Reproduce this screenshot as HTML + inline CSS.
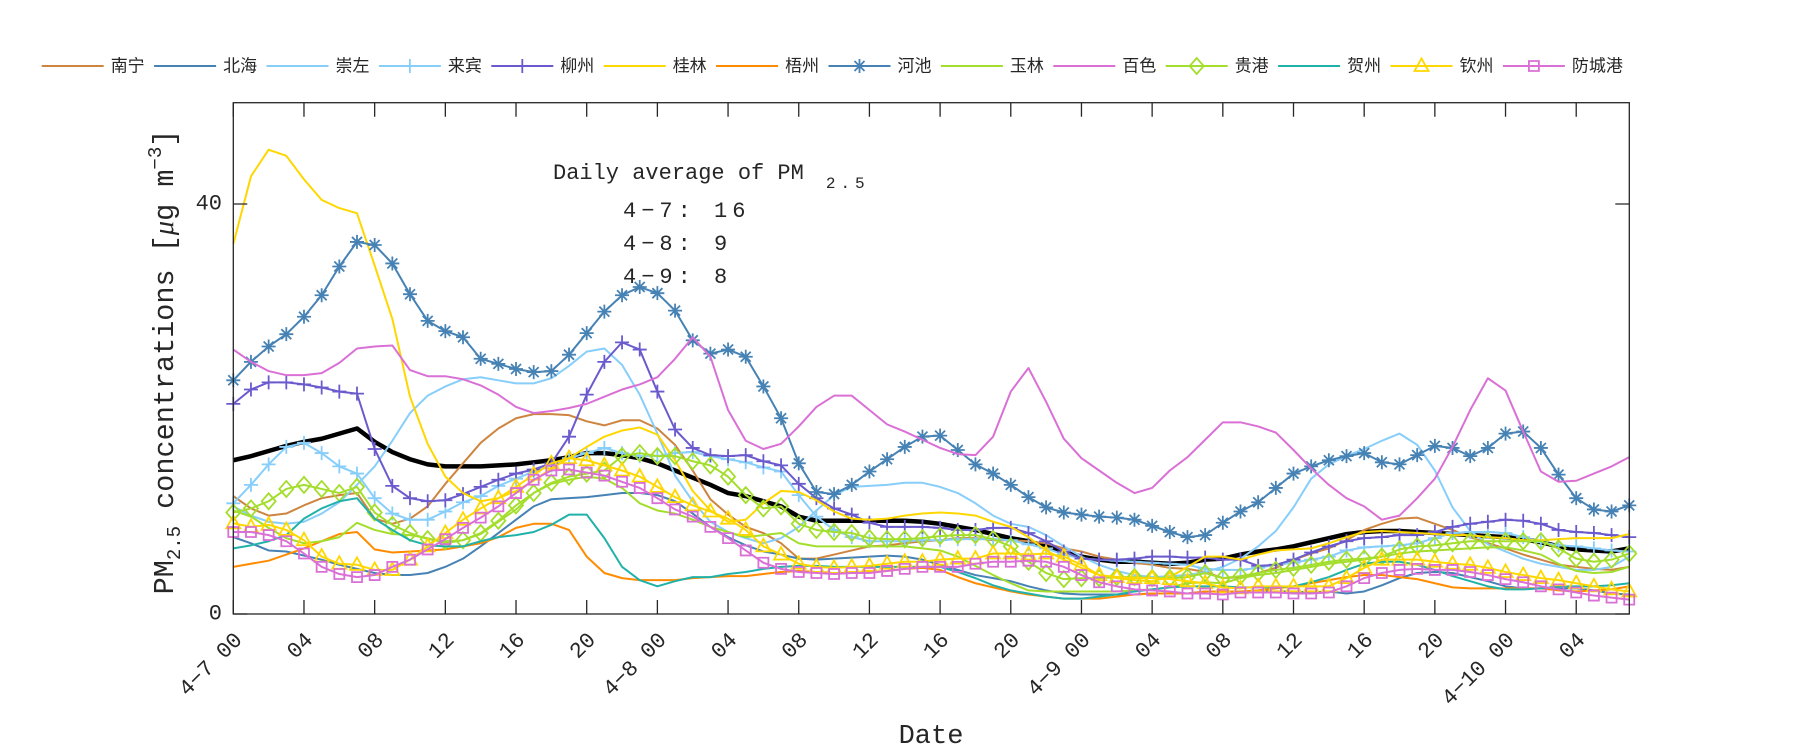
<!DOCTYPE html>
<html>
<head>
<meta charset="utf-8">
<style>
  html, body { margin:0; padding:0; background:#fff; }
  body { width:1800px; height:750px; overflow:hidden; }
  svg { display:block; }
  .mono { font-family:"Liberation Mono","DejaVu Sans Mono",monospace; fill:#262626; }
  .cjk { font-family:"Liberation Sans","Noto Sans CJK SC",sans-serif; fill:#262626; font-size:17px; }
</style>
</head>
<body>
<svg id="chart" width="1800" height="750" viewBox="0 0 1800 750" xmlns="http://www.w3.org/2000/svg">
  <rect x="0" y="0" width="1800" height="750" fill="#fff"/>
  <g id="series"></g>
  <!-- axes box -->
  <rect x="233.3" y="102.7" width="1396" height="511.3" fill="none" stroke="#262626" stroke-width="1.3"/>
  <g id="ticks" stroke="#262626" stroke-width="1.3"></g>

  <!-- y tick labels -->
  <text class="mono" x="222" y="614" font-size="22" text-anchor="end" dominant-baseline="central">0</text>
  <text class="mono" x="222" y="204" font-size="22" text-anchor="end" dominant-baseline="central">40</text>

  <!-- x tick labels -->
  <g class="mono" font-size="22" text-anchor="end" dominant-baseline="central">
    <text transform="translate(239.3,637) rotate(-45)">4−7 00</text>
    <text transform="translate(310.0,637) rotate(-45)">04</text>
    <text transform="translate(380.7,637) rotate(-45)">08</text>
    <text transform="translate(451.3,637) rotate(-45)">12</text>
    <text transform="translate(522.0,637) rotate(-45)">16</text>
    <text transform="translate(592.7,637) rotate(-45)">20</text>
    <text transform="translate(663.4,637) rotate(-45)">4−8 00</text>
    <text transform="translate(734.1,637) rotate(-45)">04</text>
    <text transform="translate(804.7,637) rotate(-45)">08</text>
    <text transform="translate(875.4,637) rotate(-45)">12</text>
    <text transform="translate(946.1,637) rotate(-45)">16</text>
    <text transform="translate(1016.8,637) rotate(-45)">20</text>
    <text transform="translate(1087.5,637) rotate(-45)">4−9 00</text>
    <text transform="translate(1158.1,637) rotate(-45)">04</text>
    <text transform="translate(1228.8,637) rotate(-45)">08</text>
    <text transform="translate(1299.5,637) rotate(-45)">12</text>
    <text transform="translate(1370.2,637) rotate(-45)">16</text>
    <text transform="translate(1440.9,637) rotate(-45)">20</text>
    <text transform="translate(1511.5,637) rotate(-45)">4−10 00</text>
    <text transform="translate(1582.2,637) rotate(-45)">04</text>
  </g>

  <!-- axis labels -->
  <text class="mono" x="931" y="743" font-size="27" text-anchor="middle">Date</text>
  <text class="mono" font-size="28.5" text-anchor="middle" transform="translate(173,362) rotate(-90)">PM<tspan font-size="19" dy="7">2.5</tspan><tspan dy="-7"> concentrations [</tspan><tspan font-family="Liberation Serif" font-style="italic">μ</tspan>g m<tspan font-size="19" dy="-12">−3</tspan><tspan dy="12">]</tspan></text>

  <!-- annotation -->
  <text class="mono" x="553" y="179" font-size="22">Daily average of PM<tspan font-size="16" dx="22" dy="9" letter-spacing="5">2.5</tspan></text>
  <text class="mono" x="623" y="217" font-size="22" letter-spacing="5">4−7: 16</text>
  <text class="mono" x="623" y="250" font-size="22" letter-spacing="5">4−8: 9</text>
  <text class="mono" x="623" y="283" font-size="22" letter-spacing="5">4−9: 8</text>

  <!-- legend -->
  <g id="legendmarks"></g>
  <g class="cjk" dominant-baseline="central">
    <text x="110.7" y="66">南宁</text>
    <text x="223.1" y="66">北海</text>
    <text x="335.5" y="66">崇左</text>
    <text x="447.9" y="66">来宾</text>
    <text x="560.3" y="66">柳州</text>
    <text x="672.7" y="66">桂林</text>
    <text x="785.1" y="66">梧州</text>
    <text x="897.5" y="66">河池</text>
    <text x="1009.9" y="66">玉林</text>
    <text x="1122.3" y="66">百色</text>
    <text x="1234.7" y="66">贵港</text>
    <text x="1347.1" y="66">贺州</text>
    <text x="1459.5" y="66">钦州</text>
    <text x="1571.9" y="66">防城港</text>
  </g>
</svg>

<script>
(function(){
  var NS = "http://www.w3.org/2000/svg";
  var X = function(h){ return 233.3 + h*17.67; };
  var Y = function(v){ return 614 - v*10.25; };
  var GREEN = "#A4DE2C";

  var S = [
    {c:"#CD853F", m:null, d:[11.5,10.3,9.6,9.8,10.6,11.3,11.6,11.8,9.3,8.8,9.3,10.5,12.7,14.7,16.7,18.1,19.1,19.5,19.5,19.4,18.8,18.4,18.9,18.9,18.1,16.5,14.0,11.2, 9.7,8.5,7.9,6.9,5.4,5.4,5.8,6.2,6.6,6.7,6.9,7.1,7.2,7.4,7.4,7.2,7.2,7.1,6.9,6.4,6.1,5.6,5.3,5.0,4.8,4.5, 4.4,4.1,3.5,3.6,4.0,4.5,5.3,5.9,6.4,7.2,8.2,8.8,9.3,9.4,8.8,8.2,7.5,6.9,6.4,5.8,5.3,4.8,4.6,4.4,4.3,4.6]},
    {c:"#4682B4", m:null, d:[7.5,6.9,6.2,6.1,5.7,5.3,4.8,4.4,4.0,3.8,3.8,4.0,4.6,5.4,6.6,7.9,9.2,10.5,11.2,11.3,11.4,11.6,11.8,11.8,11.6,11.0,9.8,8.5, 7.5,6.7,6.1,5.8,5.4,5.3,5.4,5.5,5.6,5.7,5.6,5.3,4.8,4.3,3.8,3.5,3.2,2.7,2.3,2.0,1.9,1.9,1.9,1.9,2.0,2.0, 2.0,2.2,2.2,2.2,2.2,2.2,2.2,2.1,2.2,2.0,2.2,2.8,3.5,4.0,4.1,4.0,3.6,3.2,2.7,2.5,2.5,2.5,2.5,2.3,2.0,1.9]},
    {c:"#87CEFA", m:null, d:[10.5,9.6,9.0,8.8,9.0,9.8,10.9,12.6,14.4,16.9,19.6,21.3,22.2,22.9,23.1,22.8,22.5,22.5,23.0,24.2,25.6,25.9,24.3,21.4,17.6,13.5,11.0,9.0, 8.0,7.4,6.9,7.4,8.5,10.1,11.6,12.4,12.5,12.6,12.8,12.8,12.4,11.8,10.8,9.6,8.8,8.5,7.7,6.6,5.6,4.8,4.2,3.8,3.6,3.7, 3.8,4.1,4.6,5.4,6.6,8.1,10.4,13.2,14.6,15.4,16.1,16.9,17.6,16.5,14.0,10.4,8.1,6.8,6.1,5.4,4.9,4.6,4.3,4.3,4.6,5.6]},
    {c:"#87CEFA", m:"plus", d:[10.8,12.6,14.6,16.3,16.7,15.7,14.4,13.7,11.3,9.8,9.2,9.2,10.0,10.9,11.5,12.5,13.2,13.9,14.5,15.2,15.7,16.2,15.7,15.4,15.4,15.7,15.8,15.4, 15.1,14.8,14.3,13.9,11.6,9.5,8.2,7.5,7.1,7.1,7.1,7.2,7.2,7.3,7.3,7.3,7.2,6.8,6.4,5.8,5.4,5.3,5.2,5.1,5.0,4.9, 4.8,4.4,4.3,4.3,4.5,4.8,5.0,5.3,5.6,6.2,6.5,6.6,6.7,6.9,7.4,7.9,8.0,8.0,7.9,7.5,7.0,6.7,6.6,6.4,6.2,6.1]},
    {c:"#6A5ACD", m:"plus", d:[20.5,21.9,22.6,22.6,22.4,22.1,21.7,21.5,16.1,12.5,11.3,11.0,11.1,11.7,12.4,13.1,13.7,14.1,14.7,17.3,21.4,24.6,26.5,25.8,21.7,18.0,16.2,15.5, 15.4,15.5,14.9,14.5,12.7,11.3,10.3,9.7,8.9,8.5,8.5,8.5,8.4,8.2,8.2,8.4,8.4,7.9,7.1,6.1,5.4,5.3,5.3,5.4,5.6,5.6, 5.5,5.5,5.3,5.3,4.7,4.8,5.3,6.0,6.6,7.1,7.4,7.5,7.7,7.7,8.0,8.5,8.8,9.0,9.2,9.1,8.8,8.2,8.0,7.9,7.7,7.5]},
    {c:"#FFD700", m:null, d:[36.1,42.7,45.3,44.7,42.4,40.4,39.6,39.1,34.0,28.8,21.2,16.6,13.4,11.8,11.0,11.3,12.0,13.0,14.2,15.2,16.3,17.3,17.9,18.2,17.5,15.0,12.0,10.1, 9.0,9.2,10.8,12.0,11.9,11.1,10.0,9.3,9.2,9.3,9.6,9.8,9.9,9.8,9.6,9.0,8.5,7.5,6.2,5.3,4.5,3.8,3.5,3.3,3.2,3.6, 4.6,5.6,5.6,5.3,5.8,6.2,6.3,6.4,6.9,7.5,8.0,8.1,8.0,7.9,7.8,7.7,7.7,7.5,7.4,7.2,7.2,7.3,7.4,7.4,7.4,7.8]},
    {c:"#FF8C00", m:null, d:[4.6,4.9,5.2,5.8,6.4,7.1,7.8,8.0,6.3,6.0,6.1,6.2,6.3,6.6,6.9,7.5,8.4,8.8,8.8,8.2,5.6,4.0,3.5,3.3,3.3,3.3,3.5,3.6, 3.7,3.7,3.9,4.1,4.2,4.1,4.0,4.0,4.1,4.2,4.4,4.5,4.3,3.6,3.0,2.6,2.2,1.9,1.7,1.5,1.5,1.5,1.7,1.9,2.0,2.0, 2.0,2.2,2.2,2.2,2.3,2.5,2.7,3.0,3.3,3.6,3.8,3.8,3.6,3.4,3.0,2.6,2.5,2.5,2.5,2.5,2.5,2.3,2.2,2.3,2.4,2.7]},
    {c:"#4682B4", m:"star", d:[22.8,24.6,26.1,27.3,29.0,31.1,33.9,36.3,36.0,34.2,31.2,28.6,27.6,27.0,24.9,24.4,23.9,23.6,23.7,25.3,27.4,29.5,31.1,31.9,31.3,29.6,26.7,25.4, 25.8,25.1,22.2,19.1,14.7,11.9,11.7,12.6,13.9,15.1,16.3,17.3,17.4,16.0,14.6,13.7,12.6,11.4,10.4,9.9,9.7,9.5,9.4,9.2,8.6,8.0, 7.5,7.7,8.9,10.0,10.9,12.3,13.7,14.4,15.0,15.4,15.7,14.8,14.6,15.5,16.4,16.2,15.4,16.2,17.6,17.8,16.2,13.6,11.3,10.2,10.0,10.6]},
    {c:GREEN, m:null, d:[10.1,9.5,8.4,7.4,6.9,7.1,7.5,8.9,8.2,7.8,7.7,7.4,6.9,7.2,7.8,9.0,10.2,11.8,12.7,13.1,13.4,13.2,12.3,10.8,10.1,9.8,9.2,8.5, 8.0,7.5,7.7,7.9,6.9,6.6,6.6,6.6,6.6,6.6,6.6,6.4,6.2,5.6,4.7,3.8,3.0,2.3,2.2,2.2,2.2,2.2,2.2,2.3,2.4,2.6, 3.0,3.1,3.0,3.5,3.8,4.0,4.3,4.6,4.9,5.1,5.3,5.6,5.9,6.1,6.2,6.3,6.4,6.5,6.5,6.2,5.8,4.9,4.2,4.0,4.1,4.6]},
    {c:"#DA70D6", m:null, d:[25.8,24.6,23.7,23.3,23.3,23.5,24.5,25.9,26.1,26.2,23.8,23.2,23.2,22.9,22.3,21.4,20.2,19.6,19.8,20.1,20.5,21.2,21.9,22.4,23.1,24.9,27.0,25.1, 19.9,16.9,16.1,16.6,18.3,20.2,21.3,21.3,19.9,18.5,17.8,17.0,16.2,15.6,15.5,17.3,21.7,24.0,20.7,17.1,15.2,14.0,12.8,11.8,12.3,14.0, 15.3,17.0,18.7,18.7,18.3,17.7,16.0,14.2,12.6,11.3,10.5,9.2,9.6,11.3,13.2,16.3,19.9,23.0,21.8,17.8,13.9,12.9,13.0,13.7,14.4,15.3]},
    {c:GREEN, m:"diamond", d:[9.9,10.3,11.0,12.2,12.6,12.2,11.8,12.4,9.9,8.7,7.9,7.3,7.1,7.2,7.9,9.1,10.6,11.8,12.8,13.4,13.7,14.0,15.4,15.7,15.4,15.4,14.9,14.5, 13.4,11.6,10.3,10.5,8.8,8.2,8.0,7.9,7.4,7.3,7.3,7.4,7.6,7.7,7.7,7.3,6.6,5.1,4.0,3.4,3.5,3.5,3.6,3.6,3.5,3.5, 3.6,4.0,3.5,3.7,4.0,4.3,4.5,4.8,5.1,5.3,5.4,5.6,6.3,6.6,6.7,6.9,7.1,7.1,7.1,7.1,7.1,6.4,5.4,5.1,5.3,5.9]},
    {c:"#20B2AA", m:null, d:[6.4,6.7,7.1,7.7,9.3,10.3,11.0,11.3,9.3,8.2,7.2,6.7,6.6,6.6,7.1,7.5,7.7,8.0,8.7,9.7,9.7,7.4,4.6,3.3,2.7,3.2,3.6,3.6, 3.9,4.1,4.4,4.6,4.7,4.7,4.6,4.6,4.6,4.6,4.6,4.6,4.6,4.1,3.5,2.8,2.3,2.0,1.7,1.5,1.5,1.7,1.9,2.2,2.4,2.6, 2.7,2.7,2.7,2.6,2.6,2.6,2.7,3.1,3.6,4.3,4.9,5.1,5.1,4.8,4.3,3.7,3.2,2.7,2.4,2.4,2.5,2.7,2.7,2.7,2.8,3.0]},
    {c:"#FFD700", m:"tri", d:[8.85,8.5,8.7,8.2,7.2,5.6,4.9,4.8,4.3,4.3,5.3,6.6,7.9,9.2,10.3,11.3,12.4,13.6,14.7,15.2,15.0,14.5,14.0,13.4,12.4,11.4,10.6,10.0, 9.3,8.2,6.6,5.8,4.9,4.6,4.5,4.6,4.7,4.9,5.1,5.1,5.3,5.4,5.4,5.9,5.9,5.8,5.9,5.6,4.8,3.8,3.6,3.5,3.5,3.4, 3.2,3.0,2.6,2.5,2.7,2.7,2.7,2.7,2.7,3.5,4.5,5.3,5.3,5.3,5.1,4.9,4.8,4.5,4.1,3.8,3.5,3.3,3.0,2.7,2.4,2.2]},
    {c:"#DA70D6", m:"square", d:[8.0,8.0,7.7,7.1,5.9,4.6,3.9,3.6,3.8,4.6,5.3,6.3,7.3,8.4,9.4,10.5,11.8,13.1,14.0,14.1,13.8,13.5,12.9,12.3,11.3,10.2,9.5,8.5, 7.4,6.2,5.0,4.4,4.1,4.0,3.9,4.0,4.0,4.2,4.4,4.6,4.6,4.6,4.9,5.1,5.1,5.2,5.1,4.6,3.8,3.1,2.7,2.4,2.3,2.2, 2.0,2.0,1.9,2.1,2.1,2.1,2.0,2.0,2.1,2.7,3.5,4.0,4.3,4.4,4.3,4.3,4.1,3.8,3.4,3.1,2.7,2.4,2.1,1.8,1.6,1.4]}
  ];
  var MEAN = [15.0,15.4,15.9,16.4,16.8,17.1,17.6,18.1,16.8,15.8,15.1,14.6,14.4,14.4,14.4,14.5,14.6,14.8,15.0,15.3,15.7,15.7,15.5,15.2,14.7,14.0,13.3,12.6, 11.8,11.5,11.0,10.5,9.5,9.1,9.1,9.1,9.1,9.1,9.1,9.0,8.8,8.5,8.2,7.8,7.4,7.1,6.6,6.0,5.6,5.3,5.1,5.1,5.0,4.9, 5.0,5.3,5.4,5.8,6.1,6.3,6.6,7.0,7.4,7.8,8.0,8.1,8.1,8.0,7.9,7.8,7.7,7.6,7.5,7.3,7.0,6.6,6.3,6.2,6.1,6.4];

  function mk(type, x, y){
    switch(type){
      case "plus": return "M"+(x-7)+","+y+"h14M"+x+","+(y-7)+"v14";
      case "star": return "M"+(x-7)+","+y+"h14M"+x+","+(y-7)+"v14M"+(x-5)+","+(y-5)+"l10,10M"+(x-5)+","+(y+5)+"l10,-10";
      case "diamond": return "M"+x+","+(y-8)+"L"+(x+7)+","+y+"L"+x+","+(y+8)+"L"+(x-7)+","+y+"Z";
      case "tri": return "M"+x+","+(y-7.5)+"L"+(x+7)+","+(y+5)+"L"+(x-7)+","+(y+5)+"Z";
      case "square": return "M"+(x-5)+","+(y-5)+"h10v10h-10Z";
    }
    return "";
  }
  function el(name, attrs, parent){
    var e = document.createElementNS(NS, name);
    for (var k in attrs) e.setAttribute(k, attrs[k]);
    parent.appendChild(e);
    return e;
  }
  function pts(d){
    var a = [];
    for (var i=0;i<d.length;i++) a.push(X(i).toFixed(2)+","+Y(d[i]).toFixed(2));
    return a.join(" ");
  }

  var g = document.getElementById("series");
  el("polyline", {points:pts(MEAN), fill:"none", stroke:"#000", "stroke-width":"4.5", "stroke-linejoin":"round"}, g);
  S.forEach(function(s){
    el("polyline", {points:pts(s.d), fill:"none", stroke:s.c, "stroke-width":"2", "stroke-linejoin":"round"}, g);
    if (s.m){
      var p = "";
      for (var i=0;i<s.d.length;i++) p += mk(s.m, +X(i).toFixed(2), +Y(s.d[i]).toFixed(2));
      el("path", {d:p, fill:"none", stroke:s.c, "stroke-width":"1.8"}, g);
    }
  });

  // ticks
  var t = document.getElementById("ticks");
  var td = "";
  for (var h=0; h<=76; h+=4){
    var x = X(h).toFixed(2);
    td += "M"+x+",614V600M"+x+",102.7V116.7";
  }
  [0,40].forEach(function(v){
    var y = Y(v).toFixed(2);
    td += "M233.3,"+y+"H247.3M1629.3,"+y+"H1615.3";
  });
  el("path", {d:td, fill:"none"}, t);

  // legend marks
  var lg = document.getElementById("legendmarks");
  S.forEach(function(s, i){
    var x0 = 41.7 + i*112.4;
    el("line", {x1:x0, y1:66, x2:x0+62, y2:66, stroke:s.c, "stroke-width":"2"}, lg);
    if (s.m) el("path", {d:mk(s.m, x0+31, 66), fill:"none", stroke:s.c, "stroke-width":"1.8"}, lg);
  });
})();
</script>
</body>
</html>
